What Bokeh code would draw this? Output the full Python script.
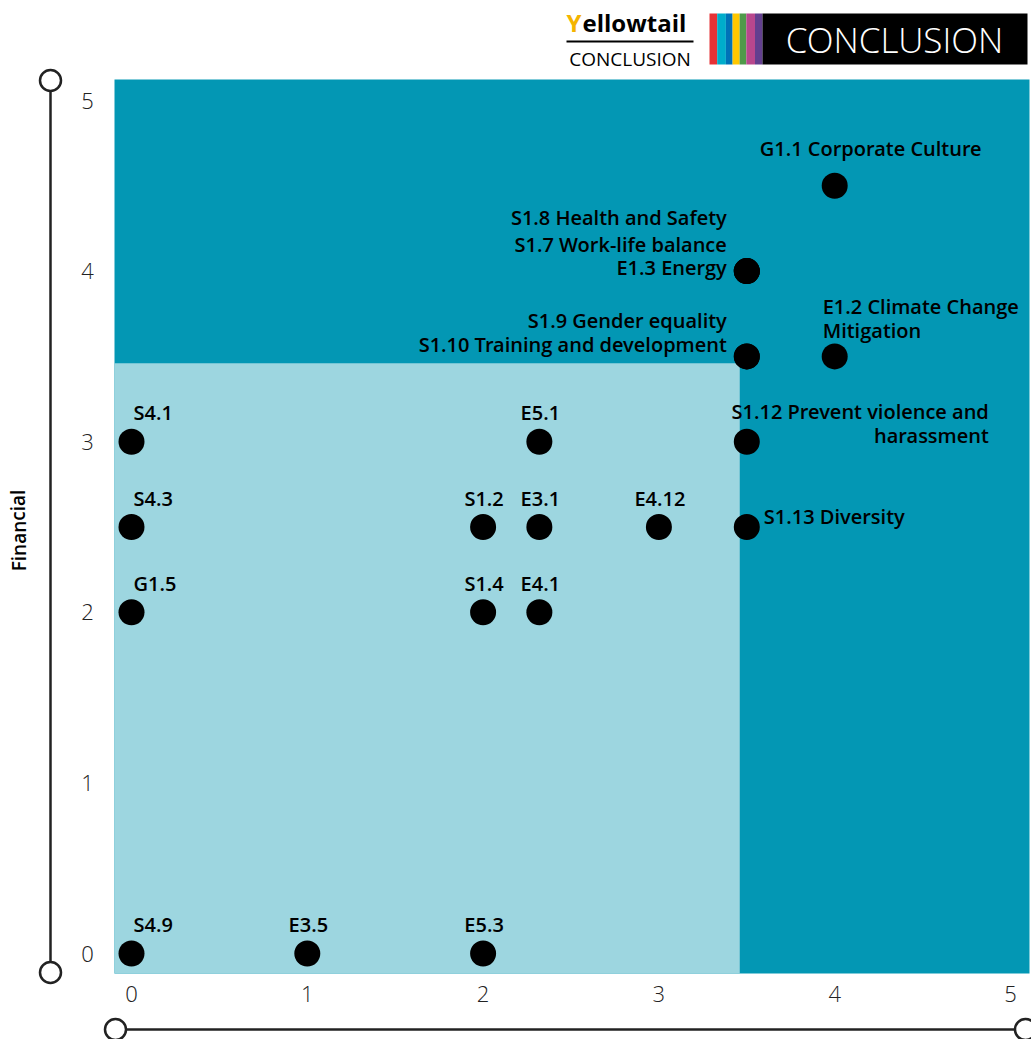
from bokeh.plotting import figure
from bokeh.models import Range1d
from bokeh.core.properties import value
from bokeh.embed import file_html
from bokeh.resources import INLINE

# ---------------- data ----------------
topics = ["S4.1", "S4.3", "G1.5", "S4.9", "E3.5", "E5.3", "S1.2", "S1.4",
          "E5.1", "E3.1", "E4.1", "E4.12", "S1.13 Diversity",
          "S1.12 Prevent violence and\nharassment",
          "S1.9 Gender equality", "S1.10 Training and development",
          "S1.8 Health and Safety", "S1.7 Work-life balance", "E1.3 Energy",
          "E1.2 Climate Change\nMitigation", "G1.1 Corporate Culture"]
impact = [0, 0, 0, 0, 1, 2, 2, 2, 2.32, 2.32, 2.32, 3, 3.5, 3.5, 3.5, 3.5,
          3.5, 3.5, 3.5, 4, 4]
financial = [3, 2.5, 2, 0, 0, 0, 2.5, 2, 3, 2.5, 2, 2.5, 2.5, 3, 3.5, 3.5,
             4, 4, 4, 3.5, 4.5]
tick_values = [0, 1, 2, 3, 4, 5]
tick_labels = ["0", "1", "2", "3", "4", "5"]
y_axis_title = "Financial"
material_threshold = 3.46
brand_colors = ["#E63236", "#00ADCB", "#0072B8", "#FFC700", "#4F9A4A",
                "#B8478D", "#633F8F"]

# ---------------- layout helpers (pixel -> data) ----------------
W, H = 1031, 1039
def X(px):
    return (px - 131) / 175.8
def Y(py):
    return (953 - py) / 170.6

DARK = "#0397B4"
LIGHT = "#9DD6E0"
INK = "#222222"
FONT = "Open Sans"
LABEL_FONT = "Open Sans SemiBold"
LIGHT_FONT = "Open Sans Light"

p = figure(width=W, height=H, x_range=Range1d(X(0), X(W)),
           y_range=Range1d(Y(H), Y(0)), x_axis_type=None, y_axis_type=None,
           output_backend="svg", toolbar_location=None, min_border=0)
p.grid.visible = False
p.outline_line_color = None
p.background_fill_color = "white"
p.border_fill_color = "white"

# plot area backgrounds
x_lo, x_hi, y_lo, y_hi = X(114), X(1029), Y(973), Y(79)
p.quad(left=[x_lo], right=[x_hi], bottom=[y_lo], top=[y_hi], color=DARK, line_color=None)
p.quad(left=[x_lo], right=[material_threshold], bottom=[y_lo], top=[material_threshold],
       color=LIGHT, line_color=None)

# points
p.scatter(impact, financial, size=26, color="black", line_color=None)

# labels placement: (align, dx px, dy px of first line)
place = {
    "S4.1": ("left", 2, -29), "S4.3": ("left", 2, -29), "G1.5": ("left", 2, -29),
    "S4.9": ("left", 2, -29),
}
for t in ["E3.5", "E5.3", "S1.2", "S1.4", "E5.1", "E3.1", "E4.1", "E4.12"]:
    place[t] = ("center", 1, -29)
place["S1.13 Diversity"] = ("left", 17, -11)
place["S1.12 Prevent violence and\nharassment"] = ("right", 242, -30)
place["S1.9 Gender equality"] = ("right", -20, -36)
place["S1.10 Training and development"] = ("right", -20, -12)
place["S1.8 Health and Safety"] = ("right", -20, -54)
place["S1.7 Work-life balance"] = ("right", -20, -27)
place["E1.3 Energy"] = ("right", -20, -4)
place["E1.2 Climate Change\nMitigation"] = ("left", -12, -50)
place["G1.1 Corporate Culture"] = ("center", 36, -37)

LINE = 24
for align in ["left", "center", "right"]:
    lx, ly, lt = [], [], []
    for t, xv, yv in zip(topics, impact, financial):
        a, dx, dy = place[t]
        if a != align:
            continue
        for k, line in enumerate(t.split("\n")):
            lx.append(xv + dx / 175.8)
            ly.append(yv - (dy + k * LINE) / 170.6)
            lt.append(line)
    p.text(lx, ly, text=lt, text_align=align, text_baseline="middle",
           text_font=value(LABEL_FONT), text_font_size="20px", text_color="black")

# tick labels
p.text(tick_values, [Y(993)] * len(tick_values), text=tick_labels,
       text_align="center", text_baseline="middle", text_font=value(LIGHT_FONT),
       text_font_size="22px", text_color=INK)
p.text([X(87)] * len(tick_values), tick_values, text=tick_labels,
       text_align="center", text_baseline="middle", text_font=value(LIGHT_FONT),
       text_font_size="22px", text_color=INK)

# axis title
p.text([X(18)], [Y(530)], text=[y_axis_title], angle=1.5708, text_align="center",
       text_baseline="middle", text_font=value(LABEL_FONT), text_font_size="19px",
       text_color="black")

# decorative axis lines with end circles
p.segment(x0=[X(50), X(115)], y0=[Y(80), Y(1029)], x1=[X(50), X(1025)],
          y1=[Y(972), Y(1029)], line_color=INK, line_width=2.5)
p.scatter([X(50), X(50), X(115), X(1025)], [Y(80), Y(972), Y(1029), Y(1029)],
          size=21, fill_color="white", line_color=INK, line_width=2.5)

# header logo
p.text([X(566)], [Y(22)], text=["Y"], text_align="left", text_baseline="middle",
       text_font=value(FONT), text_font_size="24px", text_font_style="bold",
       text_color="#F4B400")
p.text([X(582)], [Y(22)], text=["ellowtail"], text_align="left", text_baseline="middle",
       text_font=value(FONT), text_font_size="24px", text_font_style="bold",
       text_color="black")
p.segment(x0=[X(566)], y0=[Y(41)], x1=[X(693)], y1=[Y(41)], line_color="black", line_width=2)
p.text([X(629.5)], [Y(58)], text=["CONCLUSION"], text_align="center", text_baseline="middle",
       text_font=value(FONT), text_font_size="19px", text_color="black")

bar_edges = [709, 716.7, 725.4, 732.1, 739.1, 745.8, 754.5, 762]
p.quad(left=[X(b) for b in bar_edges[:-1]], right=[X(b) for b in bar_edges[1:]],
       bottom=[Y(64)] * 7, top=[Y(13)] * 7, color=brand_colors, line_color=None)
p.quad(left=[X(762)], right=[X(1027)], bottom=[Y(64)], top=[Y(13)], color="black",
       line_color=None)
p.text([X(894)], [Y(39)], text=["CONCLUSION"], text_align="center", text_baseline="middle",
       text_font=value(LIGHT_FONT), text_font_size="35px", text_color="white")

open("out.html", "w").write(file_html(p, INLINE))
